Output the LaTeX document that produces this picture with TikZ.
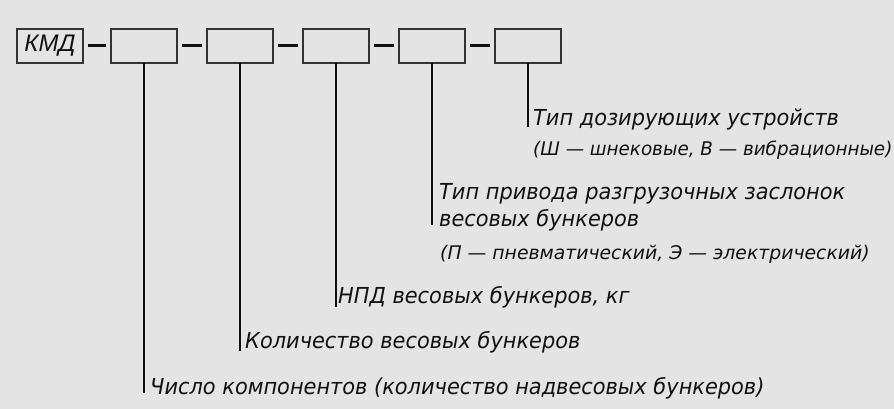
\documentclass[tikz,border=0pt]{standalone}
\usepackage{fontspec}
\setmainfont{DejaVu Sans}
\newfontfamily\labfont[FakeStretch=0.95]{DejaVu Sans Oblique}
\newfontfamily\subfont{DejaVu Sans Oblique}
\newfontfamily\subnarrowfont[FakeStretch=0.975]{DejaVu Sans Oblique}
\newfontfamily\codefont{Liberation Sans Italic}
\definecolor{bg}{HTML}{E4E4E4}
\definecolor{ink}{HTML}{111111}
\definecolor{frame}{HTML}{333333}
\begin{document}
\begin{tikzpicture}[x=1pt,y=-1pt,
  field/.style={draw=frame, line width=1.5pt, minimum width=66pt, minimum height=34pt,
    inner sep=0pt, outer sep=0pt, text=ink},
  joiner/.style={draw=ink, line width=3pt, shorten >=5pt, shorten <=5pt},
  leader/.style={draw=ink, line width=1.3pt},
  lab/.style={anchor=base west, inner sep=0pt, text=ink, font=\labfont\fontsize{22}{26}\selectfont},
  sub/.style={anchor=base west, inner sep=0pt, text=ink, font=\subfont\fontsize{18.8}{22}\selectfont}]
  % canvas
  \fill[bg] (0,0) rectangle (894,409);
  \useasboundingbox (0,0) rectangle (894,409);

  % code fields
  \node[field] (k)  at (50,46)  {\codefont\fontsize{24}{26}\selectfont КМД};
  \node[field] (b1) at (144,46) {};
  \node[field] (b2) at (240,46) {};
  \node[field] (b3) at (336,46) {};
  \node[field] (b4) at (432,46) {};
  \node[field] (b5) at (528,46) {};

  % dashes between fields
  \draw[joiner] (k.east)  -- (b1.west);
  \draw[joiner] (b1.east) -- (b2.west);
  \draw[joiner] (b2.east) -- (b3.west);
  \draw[joiner] (b3.east) -- (b4.west);
  \draw[joiner] (b4.east) -- (b5.west);

  % explanations
  \node[lab] (t5) at (533,125) {Тип дозирующих устройств};
  \node[sub, font=\subnarrowfont\fontsize{18.8}{22}\selectfont] (s5) at (533,155)
    {(Ш — шнековые, В — вибрационные)};
  \node[lab] (t4) at (439,199) {Тип привода разгрузочных заслонок};
  \node[lab] (u4) at (439,226) {весовых бункеров};
  \node[sub] (s4) at (440,259) {(П — пневматический, Э — электрический)};
  \node[lab] (t3) at (338,303) {НПД весовых бункеров, кг};
  \node[lab] (t2) at (245,348) {Количество весовых бункеров};
  \node[lab] (t1) at (150,394) {Число компонентов (количество надвесовых бункеров)};

  % leader ends
  \coordinate (e5) at (528,127);
  \coordinate (e4) at (432,225);
  \coordinate (e3) at (336,307);
  \coordinate (e2) at (240,351);
  \coordinate (e1) at (144,393);

  \draw[leader] (b5.south) -- (b5.south |- e5);
  \draw[leader] (b4.south) -- (b4.south |- e4);
  \draw[leader] (b3.south) -- (b3.south |- e3);
  \draw[leader] (b2.south) -- (b2.south |- e2);
  \draw[leader] (b1.south) -- (b1.south |- e1);
\end{tikzpicture}
\end{document}
